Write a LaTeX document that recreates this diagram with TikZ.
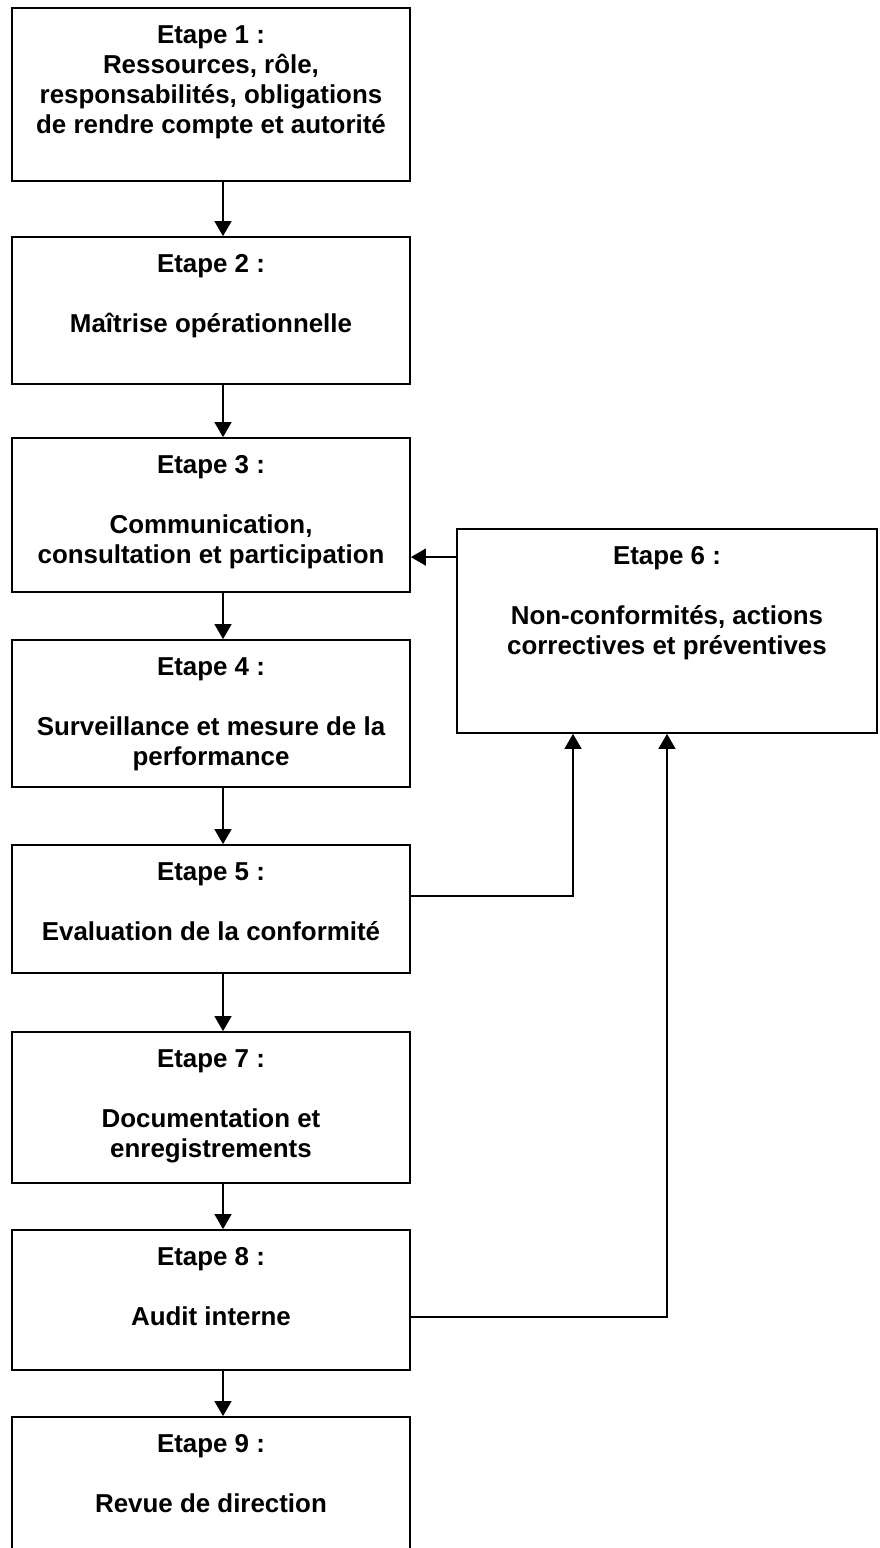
\documentclass[tikz,border=0pt]{standalone}
\usepackage{fontspec}
\setmainfont{Liberation Sans}
\usetikzlibrary{arrows.meta}
\newcommand{\steplines}[1]{\begin{tabular}[t]{@{}c@{}}#1\end{tabular}}
\begin{document}
\begin{tikzpicture}[x=1pt,y=-1pt,
  stepbox/.style={draw=black,line width=1.8pt,inner sep=0pt,rectangle,fill=none},
  steptext/.style={anchor=base,inner sep=0pt,font=\fontsize{25.9}{30}\selectfont\bfseries},
  link/.style={draw=black,line width=1.5pt,-{Triangle[length=15pt,width=17pt]}}]
\useasboundingbox (0,0) rectangle (879,1548);
\clip (0,0) rectangle (879,1548);
\fill[white] (0,0) rectangle (879,1548);

% boxes
\node[stepbox,minimum width=398pt,minimum height=173pt] (b1) at (211,94.5) {};
\node[stepbox,minimum width=398pt,minimum height=147pt] (b2) at (211,310.5) {};
\node[stepbox,minimum width=398pt,minimum height=154pt] (b3) at (211,515) {};
\node[stepbox,minimum width=398pt,minimum height=147pt] (b4) at (211,713.5) {};
\node[stepbox,minimum width=398pt,minimum height=128pt] (b5) at (211,909) {};
\node[stepbox,minimum width=398pt,minimum height=151pt] (b7) at (211,1107.5) {};
\node[stepbox,minimum width=398pt,minimum height=140pt] (b8) at (211,1300) {};
\node[stepbox,minimum width=398pt,minimum height=183pt] (b9) at (211,1508.5) {};
\node[stepbox,minimum width=420pt,minimum height=204pt] (b6) at (667,631) {};

% texts
\node[steptext] (t1) at (211,43) {\steplines{Etape 1 :\\Ressources, rôle,\\responsabilités, obligations\\de rendre compte et autorité}};
\node[steptext] (t2) at (211,272) {\steplines{Etape 2 :\\ \\Maîtrise opérationnelle}};
\node[steptext] (t3) at (211,473) {\steplines{Etape 3 :\\ \\Communication,\\consultation et participation}};
\node[steptext] (t4) at (211,675) {\steplines{Etape 4 :\\ \\Surveillance et mesure de la\\performance}};
\node[steptext] (t5) at (211,880) {\steplines{Etape 5 :\\ \\Evaluation de la conformité}};
\node[steptext] (t7) at (211,1067) {\steplines{Etape 7 :\\ \\Documentation et\\enregistrements}};
\node[steptext] (t8) at (211,1265) {\steplines{Etape 8 :\\ \\Audit interne}};
\node[steptext] (t9) at (211,1452) {\steplines{Etape 9 :\\ \\Revue de direction}};
\node[steptext] (t6) at (667,564) {\steplines{Etape 6 :\\ \\Non-conformités, actions\\correctives et préventives}};

% vertical chain
\draw[link] ([xshift=12pt]b1.south) -- ([xshift=12pt]b2.north);
\draw[link] ([xshift=12pt]b2.south) -- ([xshift=12pt]b3.north);
\draw[link] ([xshift=12pt]b3.south) -- ([xshift=12pt]b4.north);
\draw[link] ([xshift=12pt]b4.south) -- ([xshift=12pt]b5.north);
\draw[link] ([xshift=12pt]b5.south) -- ([xshift=12pt]b7.north);
\draw[link] ([xshift=12pt]b7.south) -- ([xshift=12pt]b8.north);
\draw[link] ([xshift=12pt]b8.south) -- ([xshift=12pt]b9.north);

% feedback links
\draw[link] ([yshift=-29pt]b6.north west) -- ([yshift=-29pt]b6.north west -| b3.east);
\draw[link] ([yshift=13pt]b5.east) -| ([xshift=-94pt]b6.south);
\draw[link] ([yshift=-17pt]b8.east) -| (b6.south);
\end{tikzpicture}
\end{document}
